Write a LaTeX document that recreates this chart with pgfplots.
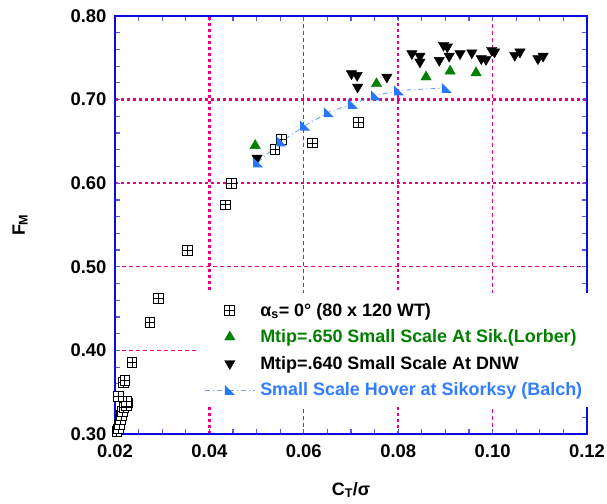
\documentclass[border=0pt]{standalone}
\usepackage{fontspec}
\setmainfont{Liberation Sans}
\usepackage{pgfplots}
\usepackage{pgfplotstable}
\pgfplotsset{compat=1.18}

\definecolor{gridpink}{RGB}{232,0,128}
\definecolor{axisblue}{RGB}{10,10,225}
\definecolor{tickblue}{RGB}{90,90,225}
\definecolor{mkgreen}{RGB}{0,128,0}
\definecolor{mkblue}{RGB}{40,120,255}
\definecolor{lnblue}{RGB}{110,160,255}
\definecolor{txtblue}{RGB}{50,125,255}

% square with a cross inside
\pgfdeclareplotmark{boxplus}{%
  \pgfpathrectangle{\pgfqpoint{-\pgfplotmarksize}{-\pgfplotmarksize}}%
                   {\pgfqpoint{2\pgfplotmarksize}{2\pgfplotmarksize}}%
  \pgfusepathqfillstroke
  \pgfpathmoveto{\pgfqpoint{-\pgfplotmarksize}{0pt}}%
  \pgfpathlineto{\pgfqpoint{\pgfplotmarksize}{0pt}}%
  \pgfpathmoveto{\pgfqpoint{0pt}{-\pgfplotmarksize}}%
  \pgfpathlineto{\pgfqpoint{0pt}{\pgfplotmarksize}}%
  \pgfusepathqstroke}
% right triangle, right angle at lower left
\pgfdeclareplotmark{lowtri}{%
  \pgfpathmoveto{\pgfqpoint{-\pgfplotmarksize}{\pgfplotmarksize}}%
  \pgfpathlineto{\pgfqpoint{-\pgfplotmarksize}{-\pgfplotmarksize}}%
  \pgfpathlineto{\pgfqpoint{\pgfplotmarksize}{-\pgfplotmarksize}}%
  \pgfpathclose\pgfusepathqfill}

% 80 x 120 wind tunnel, alpha_s = 0
\pgfplotstableread{
ct fm
0.0204 0.303
0.0207 0.306
0.0209 0.311
0.0211 0.317
0.0213 0.322
0.0215 0.327
0.0219 0.332
0.0224 0.334
0.0227 0.337
0.0224 0.339
0.0208 0.345
0.0218 0.362
0.0221 0.364
0.0236 0.386
0.0274 0.433
0.0292 0.462
0.0353 0.520
0.0434 0.574
0.0447 0.600
0.0539 0.640
0.0552 0.652
0.0618 0.648
0.0716 0.673
}\tblWT

% Lorber, Mtip = .650
\pgfplotstableread{
ct fm
0.0497 0.645
0.0754 0.719
0.0859 0.727
0.0910 0.734
0.0965 0.732
}\tblLorber

% DNW, Mtip = .640
\pgfplotstableread{
ct fm
0.0501 0.630
0.0701 0.731
0.0713 0.729
0.0714 0.715
0.0776 0.727
0.0829 0.755
0.0846 0.752
0.0846 0.745
0.0887 0.747
0.0896 0.765
0.0904 0.763
0.0908 0.752
0.0931 0.755
0.0956 0.756
0.0976 0.749
0.0986 0.748
0.0998 0.759
0.1004 0.757
0.1047 0.753
0.1058 0.757
0.1096 0.749
0.1107 0.752
}\tblDNW

% Balch hover
\pgfplotstableread{
ct fm
0.0503 0.625
0.0553 0.650
0.0603 0.669
0.0653 0.685
0.0704 0.695
0.0753 0.705
0.0802 0.711
0.0903 0.714
}\tblBalch

\pgfplotsset{
  common/.style={
    scale only axis, width=472bp, height=418bp,
    xmin=0.02, xmax=0.12, ymin=0.3, ymax=0.8,
  },
}

\begin{document}
\bfseries
\begin{tikzpicture}
\useasboundingbox (-115bp,-70bp) rectangle (492bp,434bp);

% grid layer
\begin{axis}[common,
  xtick={0.06,0.10}, ytick={0.4,0.5},
  xticklabels={}, yticklabels={},
  grid=major,
  major grid style={gridpink, line width=1.2bp, dash pattern=on 4bp off 3bp},
  extra x ticks={0.04,0.08}, extra y ticks={0.6,0.7},
  extra x tick labels={}, extra y tick labels={},
  extra tick style={grid=major,
    major grid style={gridpink, line width=2.3bp, dash pattern=on 3.3bp off 2.7bp}},
  axis line style={draw=none},
  tick style={draw=none},
]
\end{axis}

\begin{axis}[common,
  xtick={0.02,0.04,0.06,0.08,0.10,0.12},
  xticklabels={0.02,0.04,0.06,0.08,0.10,0.12},
  ytick={0.3,0.4,0.5,0.6,0.7,0.8},
  yticklabels={0.30,0.40,0.50,0.60,0.70,0.80},
  minor x tick num=3, minor y tick num=4,
  tick align=inside,
  major tick length=5bp, minor tick length=5bp,
  tick style={tickblue, line width=1.2bp},
  axis line style={axisblue, line width=2.2bp},
  tick label style={font=\bfseries\fontsize{18.5}{20}\selectfont},
  xticklabel style={yshift=-7bp},
  yticklabel style={xshift=-5bp},
  xlabel={C\textsubscript{T}/σ},
  ylabel={F\textsubscript{M}},
  label style={font=\bfseries\fontsize{18}{20}\selectfont},
  xlabel style={at={(axis description cs:0.5,-0.134)}, anchor=center},
  ylabel style={at={(axis description cs:-0.201,0.5)}, anchor=center},
  legend image code/.code={%
    \draw[mark repeat=2,mark phase=2,#1]
      plot coordinates {(0bp,0bp) (25bp,0bp) (50bp,0bp)};},
  legend cell align=left,
  legend style={at={(axis description cs:0.172,0.337)}, anchor=north west,
    draw=none, fill=white, inner sep=8bp,
    font=\bfseries\fontsize{18}{20}\selectfont,
    row sep=8bp, column sep=3bp},
]
\addplot[only marks, mark=boxplus, mark size=4.9bp,
  mark options={draw=black, fill=white, line width=0.95bp}]
  table[x=ct, y=fm] {\tblWT};
\addlegendentry{α\textsubscript{s}= 0° (80 x 120 WT)}

\addplot[only marks, mark=triangle*, mark size=6bp,
  mark options={draw=mkgreen, fill=mkgreen}]
  table[x=ct, y=fm] {\tblLorber};
\addlegendentry{\textcolor{mkgreen}{Mtip=.650 Small Scale At Sik.(Lorber)}}

\addplot[only marks, mark=triangle*, mark size=6bp,
  mark options={draw=black, fill=black, rotate=180}]
  table[x=ct, y=fm] {\tblDNW};
\addlegendentry{Mtip=.640 Small Scale At DNW}

\addplot[lnblue, line width=0.9bp, dash pattern=on 5bp off 3bp on 1bp off 3bp,
  mark=lowtri, mark size=5bp,
  mark options={solid, fill=mkblue, draw=none}]
  table[x=ct, y=fm] {\tblBalch};
\addlegendentry{\textcolor{txtblue}{Small Scale Hover at Sikorksy (Balch)}}
\end{axis}
\end{tikzpicture}
\end{document}
